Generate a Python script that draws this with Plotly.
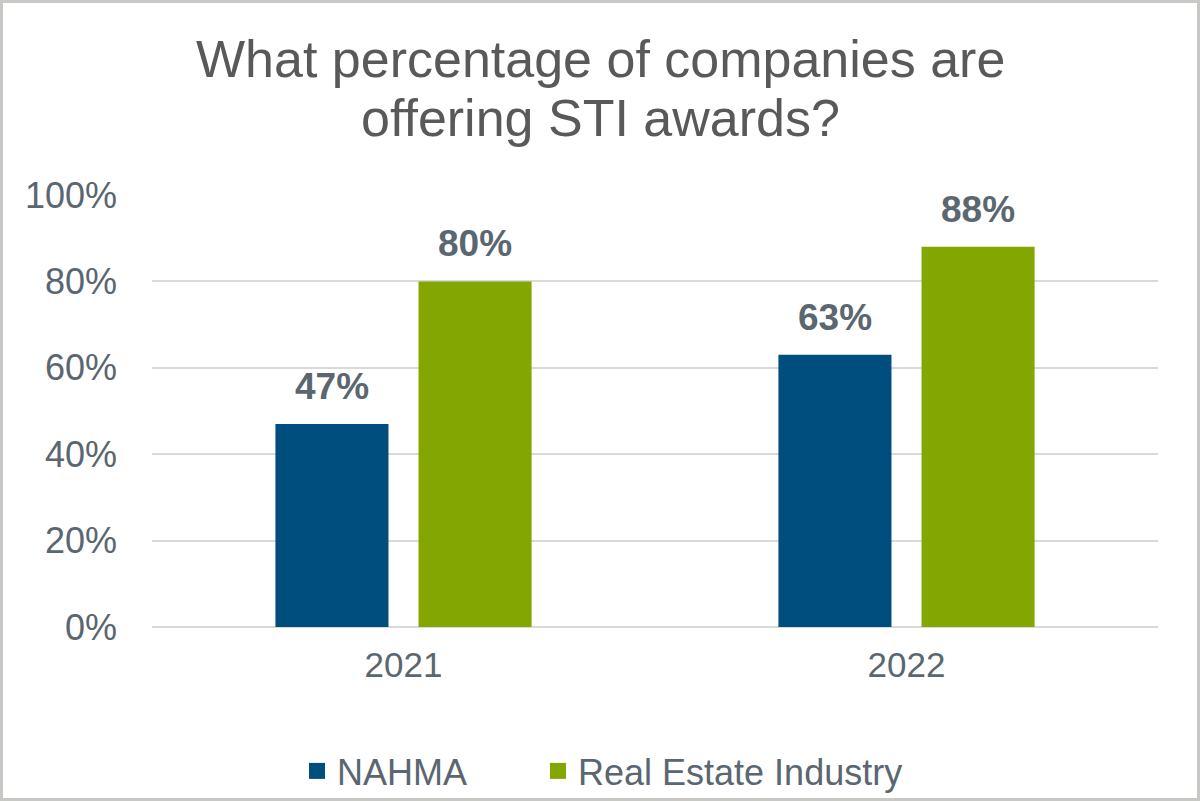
import plotly.graph_objects as go

years = ["2021", "2022"]
nahma = [47, 63]
real_estate = [80, 88]
series_names = ["NAHMA", "Real Estate Industry"]
series_colors = ["#004E7D", "#84A600"]
y_ticks = [0, 20, 40, 60, 80, 100]
y_tick_labels = ["0%", "20%", "40%", "60%", "80%", "100%"]
title_lines = ["What percentage of companies are", "offering STI awards?"]

FONT = "Liberation Sans, Arial, sans-serif"
TXT = "#5A6670"

W, H = 1200, 801
L, R, T, B = 152, 42, 195, 174
pw, ph = W - L - R, H - T - B

BARGAP = 0.431
GROUPGAP = 0.21
slot = (1 - BARGAP) / 2  # in category units

legend_ids = ["legend", "legend2"]
legend_left_px = [297, 538]

fig = go.Figure()
all_series = [nahma, real_estate]
for si, (name, vals, col) in enumerate(zip(series_names, all_series, series_colors)):
    fig.add_trace(go.Bar(
        x=years, y=vals, name=name, marker=dict(color=col, line=dict(width=0)),
        showlegend=False, hoverinfo="x+y+name",
    ))
    fig.add_trace(go.Scatter(
        x=[None], y=[None], mode="markers", name=name, legend=legend_ids[si],
        marker=dict(symbol="square", size=18, color=col), showlegend=True,
    ))
    for ci, v in enumerate(vals):
        xpos = ci + (si - 0.5) * slot
        fig.add_annotation(
            x=xpos, y=v, xref="x", yref="y", text=f"<b>{v}%</b>", showarrow=False,
            xanchor="center", yanchor="bottom", yshift=15,
            font=dict(family=FONT, size=37, color=TXT),
        )

centers_y = [59, 118]
for line, cy in zip(title_lines, centers_y):
    fig.add_annotation(
        text=line, xref="paper", yref="paper", x=(600 - L) / pw, y=(H - B - cy) / ph,
        showarrow=False, font=dict(family=FONT, size=52, color="#595959"),
        xanchor="center", yanchor="middle",
    )

fig.add_shape(type="rect", xref="paper", yref="paper",
              x0=(1.5 - L) / pw, x1=(W - 1.5 - L) / pw,
              y0=(H - B - (H - 1.5)) / ph, y1=(H - B - 1.5) / ph,
              line=dict(color="#C8C9C4", width=3), fillcolor="rgba(0,0,0,0)", layer="above")

legend_common = dict(orientation="h", xanchor="left", y=(H - B - 771) / ph, yanchor="middle",
                     font=dict(family=FONT, size=36, color=TXT), itemwidth=30,
                     bgcolor="rgba(0,0,0,0)")
fig.update_layout(
    width=W, height=H,
    margin=dict(l=L, r=R, t=T, b=B, pad=0, autoexpand=False),
    paper_bgcolor="white", plot_bgcolor="white",
    barmode="group", bargap=BARGAP, bargroupgap=GROUPGAP,
    font=dict(family=FONT, color=TXT),
    legend=dict(x=(legend_left_px[0] - L) / pw, **legend_common),
    legend2=dict(x=(legend_left_px[1] - L) / pw, **legend_common),
)
fig.update_xaxes(showgrid=False, showline=False, ticks="", tickfont=dict(family=FONT, size=35, color=TXT),
                 ticklabelstandoff=14, automargin=False)
fig.update_yaxes(range=[0, 100], tickvals=y_ticks, ticktext=y_tick_labels,
                 showgrid=True, gridcolor="#D9D9D9", gridwidth=2,
                 zeroline=True, zerolinecolor="#D9D9D9", zerolinewidth=2,
                 showline=False, ticks="", tickfont=dict(family=FONT, size=36, color=TXT),
                 ticklabelstandoff=34, automargin=False)

fig.write_html("out.html", config={"displayModeBar": False},
               post_script="document.body.style.margin='0';document.body.style.overflow='hidden';")
